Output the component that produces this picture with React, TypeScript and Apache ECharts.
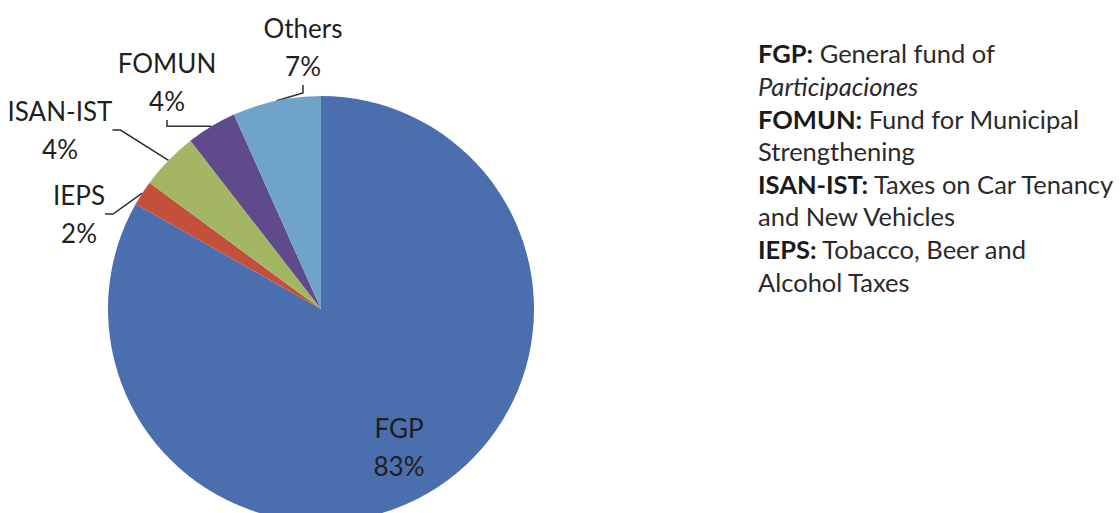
import React, { useEffect, useRef } from "react";
import * as echarts from "echarts";

// Data
const categories = ["FGP", "IEPS", "ISAN-IST", "FOMUN", "Others"];
const shares = [83.2, 1.9, 4.4, 3.8, 6.7];
const noteTerms = ["FGP:", "FOMUN:", "ISAN-IST:", "IEPS:"];
const noteFirstLines = [" General fund of", " Fund for Municipal", " Taxes on Car Tenancy", " Tobacco, Beer and"];
const noteSecondLines = ["Participaciones", "Strengthening", "and New Vehicles", "Alcohol Taxes"];

// Styles / layout
const sliceColors = ["#4A6EAE", "#C2503A", "#A3B663", "#5F4A8B", "#6FA3C8"];
const labelCenters = [
  [399, 447],
  [79, 214],
  [60, 130],
  [167, 82],
  [303, 47],
];
const FONT = "Lato, 'Open Sans', sans-serif";
const NOTE_SIZE = 25.5;
const NOTE_LH = 32.6;

export default function App() {
  const ref = useRef<HTMLDivElement>(null);

  useEffect(() => {
    document.body.style.margin = "0";
    if (!ref.current) return;
    const chart = echarts.init(ref.current, undefined, { renderer: "svg" });

    const noteRich = noteTerms
      .map((t, i) => {
        const second = i === 0 ? `{i|${noteSecondLines[i]}}` : `{n|${noteSecondLines[i]}}`;
        return `{b|${t}}{n|${noteFirstLines[i]}}\n${second}`;
      })
      .join("\n");

    const option: echarts.EChartsOption = {
      animation: false,
      backgroundColor: "#ffffff",
      series: [
        {
          type: "pie",
          center: [321, 309],
          radius: 213,
          startAngle: 90,
          clockwise: true,
          percentPrecision: 0,
          avoidLabelOverlap: false,
          itemStyle: { borderWidth: 0 },
          emphasis: { disabled: true },
          label: {
            show: true,
            position: "outside",
            formatter: "{b}\n{d}%",
            fontFamily: FONT,
            fontSize: 26,
            lineHeight: 38,
            color: "#1f1f1f",
            align: "center",
          },
          labelLine: {
            show: true,
            length: 10,
            length2: 8,
            lineStyle: { color: "#2e2e2e", width: 1.5 },
          },
          labelLayout: (p: any) => {
            const c = labelCenters[p.dataIndex];
            return { x: c[0], y: c[1], align: "center", verticalAlign: "middle" };
          },
          data: categories.map((name, i) => ({
            name,
            value: shares[i],
            itemStyle: { color: sliceColors[i] },
            ...(i === 0
              ? { label: { position: "inside" }, labelLine: { show: false } }
              : {}),
          })),
        },
      ],
      graphic: [
        {
          type: "text",
          left: 758,
          top: 37,
          style: {
            text: noteRich,
            fontFamily: FONT,
            fontSize: NOTE_SIZE,
            lineHeight: NOTE_LH,
            fill: "#2a2a2a",
            rich: {
              b: { fontWeight: "bold", fontFamily: FONT, fontSize: NOTE_SIZE, lineHeight: NOTE_LH, fill: "#1a1a1a" },
              n: { fontFamily: FONT, fontSize: NOTE_SIZE, lineHeight: NOTE_LH, fill: "#2a2a2a" },
              i: { fontStyle: "italic", fontFamily: FONT, fontSize: NOTE_SIZE, lineHeight: NOTE_LH, fill: "#2a2a2a" },
            },
          },
        },
      ],
    };
    chart.setOption(option);
    return () => chart.dispose();
  }, []);

  return <div ref={ref} style={{ width: 1120, height: 513 }} />;
}
